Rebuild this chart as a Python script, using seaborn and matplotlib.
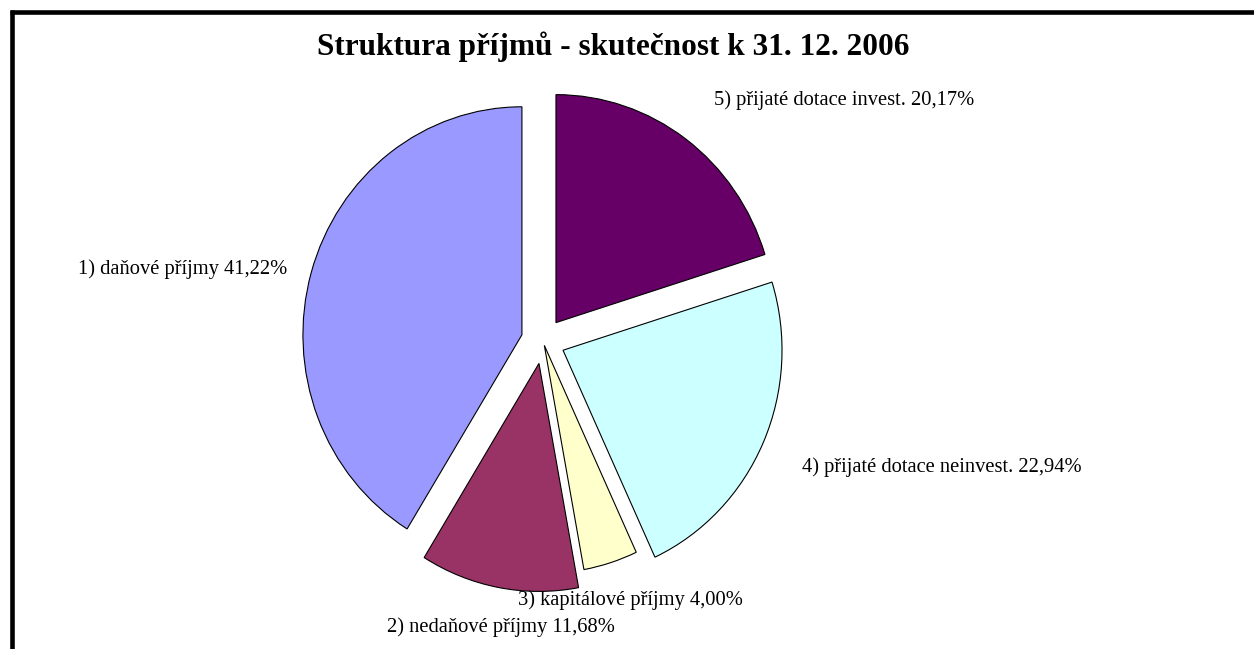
import matplotlib
matplotlib.use('Agg')
import matplotlib.pyplot as plt
from matplotlib.lines import Line2D
import seaborn as sns

sns.set_theme(style='white')
plt.rcParams['font.family'] = ['Liberation Serif', 'DejaVu Serif']

# data
categories = ['1) daňové příjmy', '2) nedaňové příjmy', '3) kapitálové příjmy',
              '4) přijaté dotace neinvest.', '5) přijaté dotace invest.']
shares = [41.22, 11.68, 4.00, 22.94, 20.17]
share_texts = ['41,22%', '11,68%', '4,00%', '22,94%', '20,17%']
colors = ['#9999FF', '#993366', '#FFFFCC', '#CCFFFF', '#660066']
explode = [0.1, 0.1, 0.02, 0.1, 0.1]

# label positions in pixels (center x, center y from top)
label_pos = [(183, 269), (501, 627), (630, 600), (942, 467), (844, 100)]

W, H = 1254, 649
fig = plt.figure(figsize=(W / 100, H / 100), dpi=100)
ax = fig.add_axes([0, 0, 1, 1])

ax.pie(shares, colors=colors, explode=explode, startangle=90, counterclock=True,
       wedgeprops=dict(edgecolor='black', linewidth=0.8))

# pie center / radius in pixels
cx, cy, rx, ry = 543, 341, 219, 228
ax.set_aspect('auto')
xmin = -cx / rx
ax.set_xlim(xmin, xmin + W / rx)
ymin = -(H - cy) / ry
ax.set_ylim(ymin, ymin + H / ry)
ax.axis('off')

for cat, txt, (px, py) in zip(categories, share_texts, label_pos):
    fig.text(px / W, 1 - py / H, f'{cat} {txt}', ha='center', va='center',
             fontsize=14.8, color='black')

fig.text(613 / W, 1 - 47 / H, 'Struktura příjmů - skutečnost k 31. 12. 2006',
         ha='center', va='center', fontsize=22.5, fontweight='bold', color='black')

# frame lines (top and left)
fig.add_artist(Line2D([10 / W, 1], [1 - 12 / H, 1 - 12 / H], color='black', lw=3.3,
                      solid_capstyle='butt', transform=fig.transFigure))
fig.add_artist(Line2D([12 / W, 12 / W], [0, 1 - 10 / H], color='black', lw=3.3,
                      solid_capstyle='butt', transform=fig.transFigure))

fig.savefig('out.png', dpi=100, facecolor='white')
